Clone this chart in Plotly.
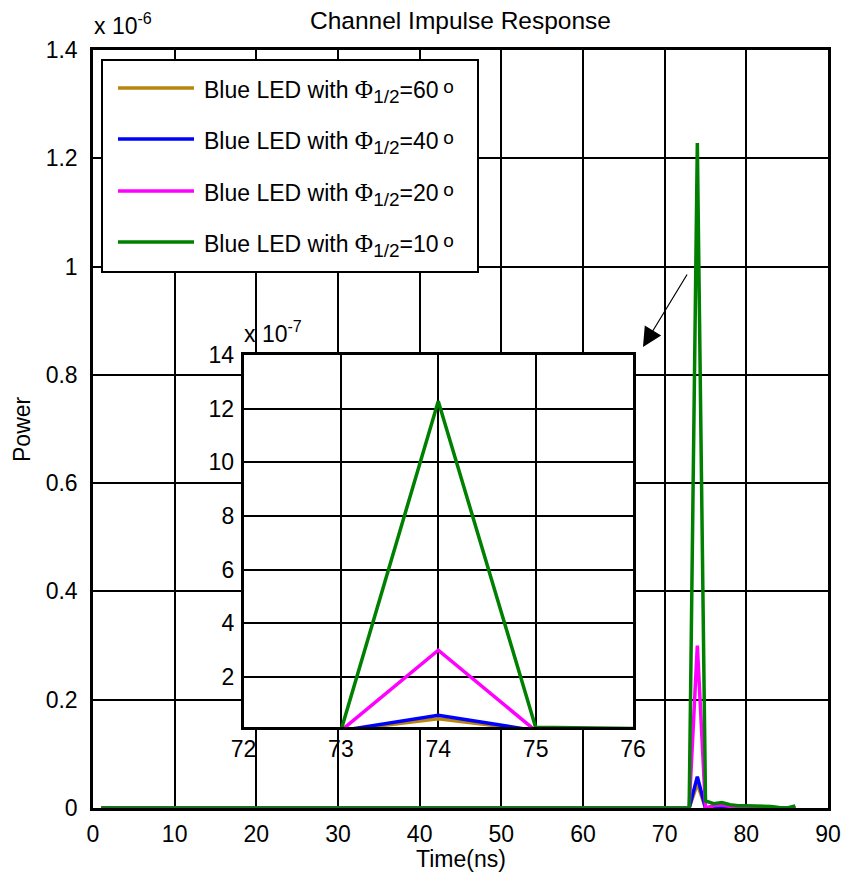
import plotly.graph_objects as go

# Sampled channel impulse response (time in ns, received power in W).
# The response is zero from t = 1 ns until the first arrival at 73 ns.
t_ns = [1, 73, 74, 75, 76, 77, 78, 79, 80, 81, 82, 83, 84, 85, 86]

p_60deg = [0, 0, 4.5e-8, 0, 0, 0, 0, 0, 0, 0, 0, 0, 0, 0, 0]
p_40deg = [0, 0, 5.8e-8, 0, 0, 0, 0, 0, 0, 0, 1e-9, 0, 0, 0, 0]
p_20deg = [0, 0, 3.0e-7, 0, 4e-9, 6e-9, 3e-9, 1e-9, 0, 0, 0, 0, 0, 0, 0]
p_10deg = [0, 0, 1.228e-6, 1.3e-8, 8e-9, 1.0e-8, 6e-9, 4e-9, 4e-9, 4e-9, 4e-9, 3e-9, 1e-9, 0, 4e-9]

half_angles = ["60", "40", "20", "10"]
series_values = [p_60deg, p_40deg, p_20deg, p_10deg]
series_colors = ["#B8860B", "#0000FF", "#FF00FF", "#008000"]

main_x_ticks = [0, 10, 20, 30, 40, 50, 60, 70, 80, 90]
main_y_ticks = [0, 0.2, 0.4, 0.6, 0.8, 1.0, 1.2, 1.4]
inset_x_ticks = [72, 73, 74, 75, 76]
inset_y_ticks = [2, 4, 6, 8, 10, 12, 14]

FONT = "Liberation Sans, Arial, sans-serif"
FS = 23


def legend_label(angle):
    return ("Blue LED with "
            "<span style='font-family:Liberation Serif;font-size:25px'>Φ</span>"
            "<sub><span style='font-size:19px'>1/2</span></sub>"
            "=" + angle + "\u2009"
            "<span style='font-size:19px;baseline-shift:5px'>o</span>")


series_names = [legend_label(a) for a in half_angles]

fig = go.Figure()

# main axes (power scaled by 1e-6)
for name, vals, col in zip(series_names, series_values, series_colors):
    fig.add_trace(go.Scatter(
        x=t_ns, y=[v / 1e-6 for v in vals], mode="lines", name=name,
        line=dict(color=col, width=3.5), showlegend=False,
        xaxis="x", yaxis="y"))

# zoomed inset (power scaled by 1e-7)
for name, vals, col in zip(series_names, series_values, series_colors):
    fig.add_trace(go.Scatter(
        x=t_ns, y=[v / 1e-7 for v in vals], mode="lines", name=name,
        line=dict(color=col, width=3.5), showlegend=False,
        xaxis="x2", yaxis="y2"))

axis_common = dict(
    showgrid=True, gridcolor="black", gridwidth=2,
    showline=True, linecolor="black", linewidth=2.5, mirror=True,
    zeroline=False, ticks="", automargin=False,
    tickfont=dict(family=FONT, size=FS, color="black"),
)

fig.update_layout(
    width=845, height=875,
    margin=dict(l=93, r=17, t=50, b=67),
    paper_bgcolor="white", plot_bgcolor="white",
    font=dict(family=FONT, size=FS, color="black"),
    xaxis=dict(range=[0, 90], tickvals=main_x_ticks, ticklabelstandoff=4, **axis_common),
    yaxis=dict(range=[0, 1.4], tickvals=main_y_ticks, ticklabelstandoff=8, **axis_common),
    xaxis2=dict(range=[72, 76], tickvals=inset_x_ticks, domain=[0.2048, 0.7347],
                anchor="y2", ticklabelstandoff=0, **axis_common),
    yaxis2=dict(range=[0.14, 14], tickvals=inset_y_ticks, domain=[0.1069, 0.5976],
                anchor="x2", ticklabelstandoff=2, **axis_common),
    showlegend=False,
)

shapes = []
# white backdrop of the inset, drawn inside the inset subplot (hides the main grid)
shapes.append(dict(type="rect", xref="x2", yref="y2", x0=72, x1=76, y0=0.14, y1=14,
                   fillcolor="white", line=dict(width=0), layer="below"))


def px_x(p):
    return (p - 93) / 735.0


def px_y(p):
    return (808 - p) / 758.0


# legend box
shapes.append(dict(type="rect", xref="paper", yref="paper",
                   x0=px_x(102), x1=px_x(478), y0=px_y(272), y1=px_y(60),
                   fillcolor="white", line=dict(color="black", width=2), layer="above"))
row_px = [88, 139, 191, 242]
annotations = []
for name, col, ry in zip(series_names, series_colors, row_px):
    shapes.append(dict(type="line", xref="paper", yref="paper",
                       x0=px_x(118), x1=px_x(194), y0=px_y(ry), y1=px_y(ry),
                       line=dict(color=col, width=3.5), layer="above"))
    annotations.append(dict(xref="paper", yref="paper", x=px_x(202), y=px_y(ry + 3),
                            xanchor="left", yanchor="middle", showarrow=False,
                            text=name, font=dict(family=FONT, size=FS, color="black")))

# exponent labels
annotations.append(dict(xref="paper", yref="paper", x=px_x(92), y=px_y(41),
                        xanchor="left", yanchor="bottom", showarrow=False,
                        text="x 10<sup>-6</sup>", font=dict(family=FONT, size=FS)))
annotations.append(dict(xref="paper", yref="paper", x=px_x(242), y=px_y(349),
                        xanchor="left", yanchor="bottom", showarrow=False,
                        text="x 10<sup>-7</sup>", font=dict(family=FONT, size=FS)))

# titles
annotations.append(dict(xref="paper", yref="paper", x=0.5, y=px_y(21),
                        xanchor="center", yanchor="middle", showarrow=False,
                        text="Channel Impulse Response", font=dict(family=FONT, size=24.5)))
annotations.append(dict(xref="paper", yref="paper", x=0.5, y=px_y(859),
                        xanchor="center", yanchor="middle", showarrow=False,
                        text="Time(ns)", font=dict(family=FONT, size=FS)))
annotations.append(dict(xref="paper", yref="paper", x=px_x(22), y=0.5,
                        xanchor="center", yanchor="middle", showarrow=False, textangle=-90,
                        text="Power", font=dict(family=FONT, size=FS)))

# arrow pointing from the peak to the inset
annotations.append(dict(xref="paper", yref="paper", x=px_x(643), y=px_y(347),
                        ax=45, ay=-74, axref="pixel", ayref="pixel",
                        text="", showarrow=True, arrowhead=2, arrowsize=3.2,
                        arrowwidth=1.2, arrowcolor="black"))

fig.update_layout(shapes=shapes, annotations=annotations)

fig.write_html("out.html")
